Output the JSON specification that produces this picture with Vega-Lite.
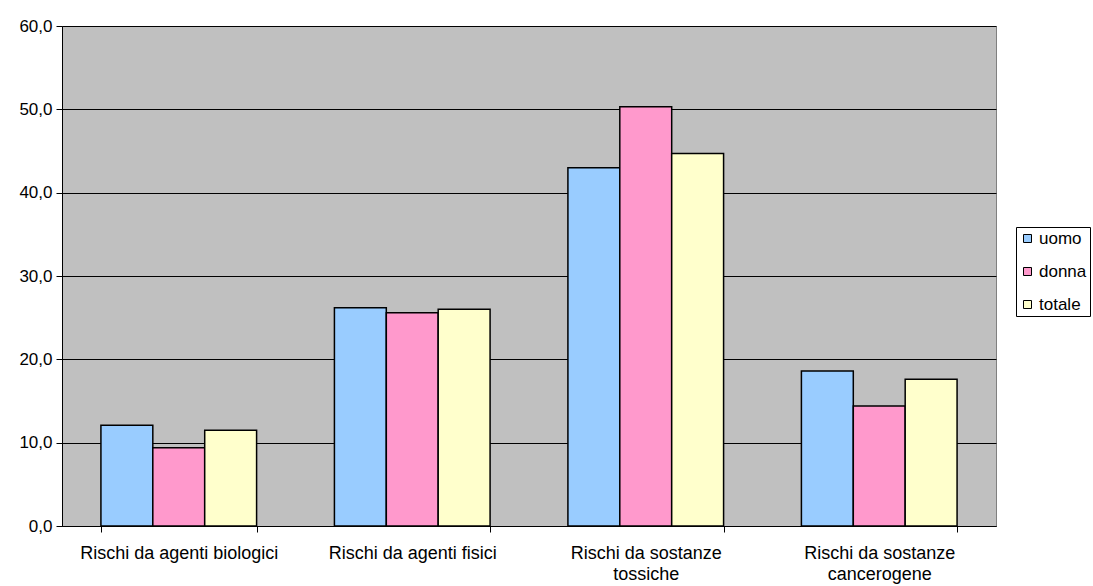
{
  "$schema": "https://vega.github.io/schema/vega-lite/v6.json",
  "autosize": {"type": "none"},
  "width": 934,
  "height": 500,
  "padding": {"left": 62, "top": 26, "right": 97, "bottom": 60},
  "background": "white",
  "config": {
    "font": "Liberation Sans",
    "view": {"fill": "#c0c0c0", "stroke": "#808080", "strokeWidth": 1}
  },
  "data": {
    "values": [
      {"categoria": "Rischi da agenti biologici", "genere": "uomo", "valore": 12.1},
      {"categoria": "Rischi da agenti biologici", "genere": "donna", "valore": 9.4},
      {"categoria": "Rischi da agenti biologici", "genere": "totale", "valore": 11.5},
      {"categoria": "Rischi da agenti fisici", "genere": "uomo", "valore": 26.2},
      {"categoria": "Rischi da agenti fisici", "genere": "donna", "valore": 25.6},
      {"categoria": "Rischi da agenti fisici", "genere": "totale", "valore": 26.0},
      {"categoria": "Rischi da sostanze tossiche", "genere": "uomo", "valore": 43.0},
      {"categoria": "Rischi da sostanze tossiche", "genere": "donna", "valore": 50.3},
      {"categoria": "Rischi da sostanze tossiche", "genere": "totale", "valore": 44.7},
      {"categoria": "Rischi da sostanze cancerogene", "genere": "uomo", "valore": 18.6},
      {"categoria": "Rischi da sostanze cancerogene", "genere": "donna", "valore": 14.4},
      {"categoria": "Rischi da sostanze cancerogene", "genere": "totale", "valore": 17.6}
    ]
  },
  "mark": {"type": "bar", "stroke": "black", "strokeWidth": 1.5},
  "encoding": {
    "x": {
      "field": "categoria",
      "type": "nominal",
      "sort": null,
      "scale": {"paddingInner": 0.3333, "paddingOuter": 0.1667},
      "axis": {
        "title": null,
        "labelAngle": 0,
        "labelFont": "Liberation Sans",
        "labelFontSize": 18,
        "labelColor": "black",
        "labelPadding": 12,
        "labelLineHeight": 21,
        "labelLimit": 400,
        "labelExpr": "indexof(datum.label, 'sostanze') > 0 ? ['Rischi da sostanze', substring(datum.label, 19)] : datum.label",
        "tickBand": "extent",
        "tickColor": "black",
        "tickSize": 6,
        "domainColor": "black",
        "grid": false
      }
    },
    "xOffset": {"field": "genere", "type": "nominal", "sort": ["uomo", "donna", "totale"], "scale": {"paddingInner": 0, "paddingOuter": 0}},
    "y": {
      "field": "valore",
      "type": "quantitative",
      "scale": {"domain": [0, 60], "nice": false},
      "axis": {
        "title": null,
        "values": [0, 10, 20, 30, 40, 50, 60],
        "labelExpr": "replace(format(datum.value, '.1f'), '.', ',')",
        "labelFont": "Liberation Sans",
        "labelFontSize": 17,
        "labelColor": "black",
        "labelPadding": 4,
        "tickColor": "black",
        "tickSize": 6,
        "domainColor": "black",
        "grid": true,
        "gridColor": "black",
        "gridWidth": 1,
        "gridOpacity": 1
      }
    },
    "color": {
      "field": "genere",
      "type": "nominal",
      "sort": ["uomo", "donna", "totale"],
      "scale": {"domain": ["uomo", "donna", "totale"], "range": ["#99ccff", "#ff99cc", "#ffffcc"]},
      "legend": {
        "title": null,
        "orient": "none",
        "legendX": 954,
        "legendY": 201,
        "symbolType": "square",
        "symbolSize": 64,
        "symbolStrokeColor": "black",
        "symbolStrokeWidth": 1,
        "symbolOpacity": 1,
        "labelFont": "Liberation Sans",
        "labelFontSize": 17,
        "labelColor": "black",
        "rowPadding": 15,
        "padding": 3,
        "strokeColor": "black",
        "fillColor": "white",
        "labelOffset": 3
      }
    }
  }
}
